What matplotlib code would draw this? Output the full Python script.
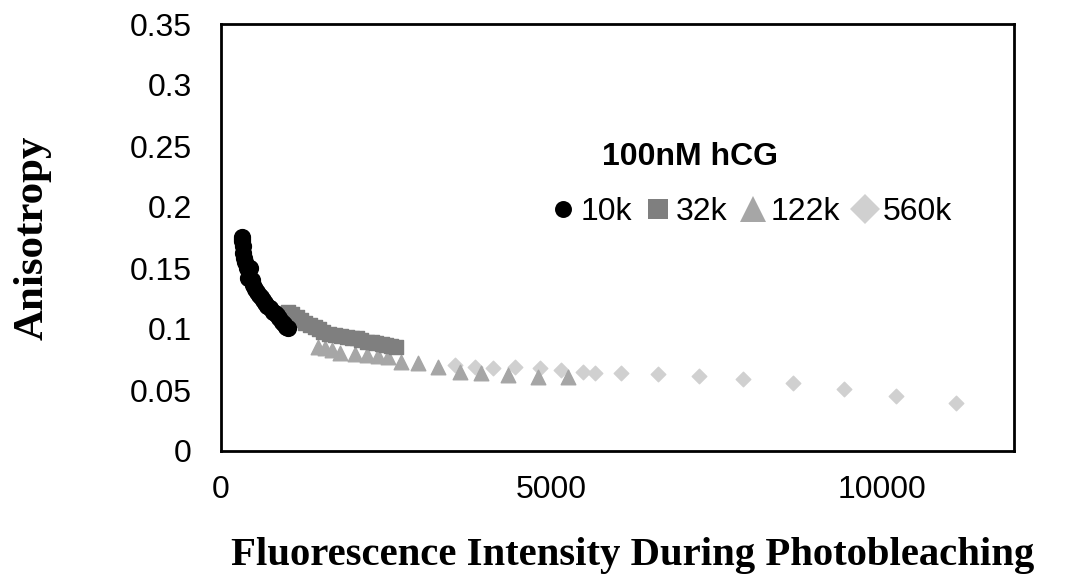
import numpy as np
import matplotlib.pyplot as plt
from matplotlib.lines import Line2D

# anisotropy vs fluorescence intensity
x_10k = [313, 318, 322, 327, 337, 350, 370, 390, 413, 438, 464, 490, 515, 540,
         570, 600, 639, 670, 700, 740, 780, 810, 842, 880, 917, 950, 980, 1017]
y_10k = [0.1757, 0.174, 0.172, 0.168, 0.162, 0.158, 0.155, 0.150, 0.1415, 0.150,
         0.140, 0.136, 0.133, 0.130, 0.128, 0.126, 0.124, 0.121, 0.119, 0.117,
         0.114, 0.113, 0.1115, 0.109, 0.106, 0.104, 0.102, 0.1006]

x_32k = [1017, 1080, 1144, 1205, 1269, 1345, 1421, 1485, 1546, 1630, 1723, 1810,
         1900, 1975, 2051, 2125, 2202, 2280, 2353, 2430, 2504, 2580, 2655]
y_32k = [0.1142, 0.112, 0.110, 0.107, 0.1047, 0.103, 0.102, 0.100, 0.0978, 0.096,
         0.0951, 0.094, 0.0937, 0.093, 0.0924, 0.091, 0.0896, 0.089, 0.0882, 0.0875,
         0.0869, 0.086, 0.0855]

x_122k = [1471, 1572, 1673, 1798, 2025, 2202, 2377, 2528, 2731, 2982, 3284, 3612,
          3940, 4342, 4795, 5249]
y_122k = [0.0855, 0.0842, 0.0828, 0.0801, 0.0795, 0.0787, 0.0781, 0.0773, 0.0732,
          0.0719, 0.0691, 0.065, 0.0637, 0.0623, 0.0609, 0.0609]

x_560k = [3536, 3839, 4115, 4443, 4821, 5149, 5475, 5652, 6056, 6609, 7239, 7894,
          8649, 9430, 10212, 11119]
y_560k = [0.0705, 0.0691, 0.0678, 0.0691, 0.0678, 0.0664, 0.065, 0.0637, 0.0642,
          0.0631, 0.0615, 0.059, 0.056, 0.0506, 0.0451, 0.0391]

series_labels = ["10k", "32k", "122k", "560k"]
colors = ["#000000", "#7f7f7f", "#a6a6a6", "#d0d0d0"]
markers = ["o", "s", "^", "D"]

fig = plt.figure(figsize=(10.81, 5.75), dpi=100)
ax = fig.add_axes([221 / 1081, 1 - 451 / 575, 793 / 1081, 427 / 575])

ax.scatter(x_560k, y_560k, marker="D", s=55, color=colors[3], zorder=2)
ax.scatter(x_122k, y_122k, marker="^", s=110, color=colors[2], zorder=3)
ax.scatter(x_32k, y_32k, marker="s", s=110, color=colors[1], zorder=4)
ax.scatter(x_10k, y_10k, marker="o", s=130, color=colors[0], zorder=5)

ax.set_xlim(0, 12000)
ax.set_ylim(0, 0.35)
ax.set_xticks([0, 5000, 10000])
ax.set_yticks(np.arange(0, 0.351, 0.05))
ax.set_yticklabels(["0", "0.05", "0.1", "0.15", "0.2", "0.25", "0.3", "0.35"])
ax.tick_params(length=0, labelsize=23)
ax.tick_params(axis="x", pad=17)
ax.tick_params(axis="y", pad=21)
for lab in ax.get_xticklabels() + ax.get_yticklabels():
    lab.set_fontfamily("Liberation Sans")
for sp in ax.spines.values():
    sp.set_linewidth(2)
    sp.set_color("black")

# legend handles sized like the reference legend
leg_sizes = [12.2, 13.7, 19.4, 15.3]
handles = [Line2D([], [], linestyle="none", marker=m, markersize=ms, color=c,
                  markeredgewidth=0)
           for m, ms, c in zip(markers, leg_sizes, colors)]
ax.legend(handles, series_labels, ncol=4, loc="center", bbox_to_anchor=(0.669, 0.56),
          frameon=False, handlelength=0.8, handletextpad=0.15, columnspacing=0.4,
          prop={"family": "Liberation Sans", "size": 23})
ax.text(0.591, 0.689, "100nM hCG", transform=ax.transAxes, ha="center", va="center",
        fontsize=23, fontweight="bold", family="Liberation Sans")

fig.text(633 / 1081, 1 - 565 / 575, "Fluorescence Intensity During Photobleaching",
         ha="center", va="baseline", fontsize=29.3, fontweight="bold", family="Liberation Serif")
fig.text(33 / 1081, 1 - 238 / 575, "Anisotropy", rotation=90, ha="center", va="center",
         fontsize=31, fontweight="bold", family="Liberation Serif")

fig.savefig("out.png", dpi=100)
